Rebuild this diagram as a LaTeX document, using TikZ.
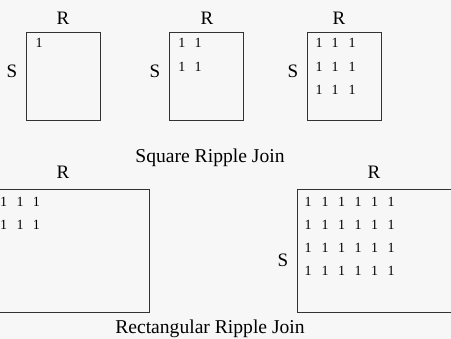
\documentclass[tikz,border=0pt]{standalone}
\usepackage{fontspec}
\setmainfont{Liberation Serif}
\begin{document}
\begin{tikzpicture}[x=1pt,y=-1pt,
  frame/.style={draw=black!80,line width=0.9pt},
  lbl/.style={inner sep=0pt,font=\fontsize{19}{21}\selectfont},
  one/.style={inner sep=0pt,font=\fontsize{14}{16}\selectfont},
  captiontext/.style={inner sep=0pt,anchor=base,font=\fontsize{19.6}{22}\selectfont}]
\useasboundingbox (0,0) rectangle (451,339);
\clip (0,0) rectangle (451,339);
\fill[black!3] (0,0) rectangle (451,339);
% square ripple join
\draw[frame] (26,32) rectangle (100,120);
\node[lbl] (r1) at (63,18) {R};
\node[lbl] (s1) at (12,71.5) {S};
\node[one] (a11) at (39,43) {1};
\draw[frame] (169,32) rectangle (243,120);
\node[lbl] (r2) at (207,18) {R};
\node[lbl] (s2) at (155,71.5) {S};
\foreach \i/\y in {1/43,2/67}{\foreach \j/\x in {1/182,2/198}{\node[one] (b\i\j) at (\x,\y) {1};}}
\draw[frame] (307,32) rectangle (381,120);
\node[lbl] (r3) at (339,18) {R};
\node[lbl] (s3) at (293,71.5) {S};
\foreach \i/\y in {1/43,2/67,3/90}{\foreach \j/\x in {1/319,2/335,3/352}{\node[one] (c\i\j) at (\x,\y) {1};}}
\node[captiontext] (sq) at (210,163) {Square Ripple Join};
% rectangular ripple join
\draw[frame] (-23,189) rectangle (149,312);
\node[lbl] (r4) at (63,172) {R};
\foreach \i/\y in {1/202,2/225}{\foreach \j/\x in {1/3.5,2/20,3/36.5}{\node[one] (d\i\j) at (\x,\y) {1};}}
\draw[frame] (297,189) rectangle (453,312);
\node[lbl] (r5) at (374,172) {R};
\node[lbl] (s5) at (283,260.5) {S};
\foreach \i/\y in {1/202,2/225,3/248,4/271}{\foreach \j/\x in {1/308,2/325,3/341.5,4/358,5/374.5,6/391}{\node[one] (e\i\j) at (\x,\y) {1};}}
\node[captiontext] (rc) at (210,334) {Rectangular Ripple Join};
\end{tikzpicture}
\end{document}
